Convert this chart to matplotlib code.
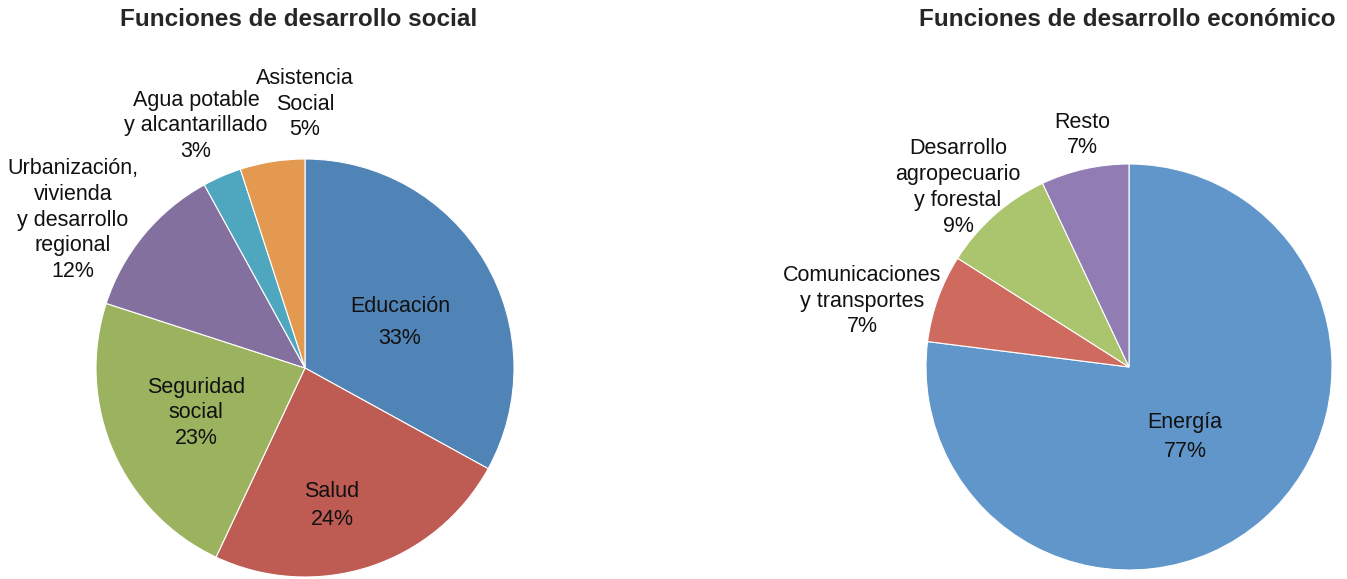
import matplotlib
matplotlib.use("Agg")
import matplotlib.pyplot as plt

plt.rcParams['font.family'] = ['Liberation Sans', 'DejaVu Sans']

# Gasto en funciones de desarrollo social (%)
social_labels = ["Educación", "Salud", "Seguridad\nsocial",
                 "Urbanización,\nvivienda\ny desarrollo\nregional",
                 "Agua potable\ny alcantarillado", "Asistencia\nSocial"]
social_values = [33, 24, 23, 12, 3, 5]
social_colors = ["#5083B6", "#BE5B53", "#9BB25F", "#84709E", "#4FA7BF", "#E3994F"]

# Gasto en funciones de desarrollo económico (%)
econ_labels = ["Energía", "Comunicaciones\ny transportes",
               "Desarrollo\nagropecuario\ny forestal", "Resto"]
econ_values = [77, 7, 9, 7]
econ_colors = ["#6196CB", "#CF6A5F", "#ABC46E", "#917CB3"]

W, H = 1347, 579
fig = plt.figure(figsize=(W / 100, H / 100), dpi=100)
fig.patch.set_facecolor("white")


def pie_axes(cx, cy, r, pad=1.05):
    # axes box centred on (cx, cy) in pixels from the top-left corner
    half = r * pad
    ax = fig.add_axes([(cx - half) / W, (H - cy - half) / H, 2 * half / W, 2 * half / H])
    ax.set_aspect("equal")
    ax.axis("off")
    return ax


def draw_pie(ax, values, colors, labels, label_pos, spacings):
    ax.pie(values, colors=colors, startangle=90, counterclock=False,
           wedgeprops=dict(edgecolor="white", linewidth=0.8),
           radius=1.0, frame=False)
    ax.set_xlim(-1.05, 1.05)
    ax.set_ylim(-1.05, 1.05)
    for lab, v, (x, y), ls in zip(labels, values, label_pos, spacings):
        ax.text(x, y, f"{lab}\n{v}%", ha="center", va="center", fontsize=15.5,
                color="#111111", linespacing=ls, clip_on=False)


# Social
ax1 = pie_axes(305, 368, 209)
draw_pie(ax1, social_values, social_colors, social_labels,
         [(0.455, 0.218), (0.129, -0.656), (-0.522, -0.215),
          (-1.11, 0.708), (-0.522, 1.158), (0.0, 1.263)],
         [1.65, 1.45, 1.3, 1.3, 1.3, 1.3])
fig.text(299 / W, 1 - 20 / H, "Funciones de desarrollo social", ha="center", va="center",
         fontsize=17.5, fontweight="bold", color="#262626")

# Económico
ax2 = pie_axes(1129, 367, 203)
draw_pie(ax2, econ_values, econ_colors, econ_labels,
         [(0.276, -0.347), (-1.315, 0.325), (-0.842, 0.884), (-0.232, 1.143)],
         [1.5, 1.3, 1.3, 1.3])
fig.text(1127 / W, 1 - 20 / H, "Funciones de desarrollo económico", ha="center", va="center",
         fontsize=17.5, fontweight="bold", color="#262626")

fig.savefig("out.png", dpi=100, facecolor="white")
